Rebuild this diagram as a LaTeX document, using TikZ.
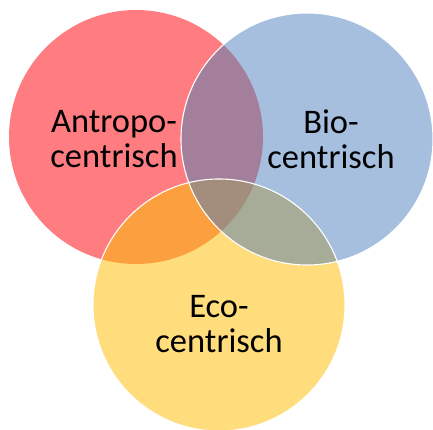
\documentclass[tikz,border=0pt]{standalone}
\usepackage{fontspec}
\setmainfont{Carlito}
\definecolor{cred}{HTML}{FF7C80}
\definecolor{cblue}{HTML}{A6BFDF}
\definecolor{cyellow}{HTML}{FFDC7C}
\definecolor{crb}{HTML}{A37F9B}
\definecolor{cry}{HTML}{FC9F3E}
\definecolor{cby}{HTML}{A6AC97}
\definecolor{crby}{HTML}{A38E7E}
\begin{document}
\begin{tikzpicture}[x=1pt,y=-1pt,
  lbl/.style={font=\fontsize{34.5}{35}\selectfont, align=center, text=black, inner sep=0pt},
  rim/.style={draw=white, line width=1.1pt}]
\useasboundingbox (0,0) rectangle (433,430);
\coordinate (R) at (136,137);
\coordinate (B) at (307,139);
\coordinate (Y) at (219,305);
\def\rr{127}\def\rb{126}\def\ry{126}
% base fills
\fill[cred] (R) circle[radius=\rr];
\fill[cblue] (B) circle[radius=\rb];
\fill[cyellow] (Y) circle[radius=\ry];
% pairwise overlaps
\begin{scope}
  \clip (R) circle[radius=\rr];
  \fill[crb] (B) circle[radius=\rb];
  \fill[cry] (Y) circle[radius=\ry];
\end{scope}
\begin{scope}
  \clip (B) circle[radius=\rb];
  \fill[cby] (Y) circle[radius=\ry];
  \clip (R) circle[radius=\rr];
  \fill[crby] (Y) circle[radius=\ry];
\end{scope}
% white rims
\draw[rim] (B) circle[radius=\rb];
\draw[rim] (Y) circle[radius=\ry];
% labels
\node[lbl] (ta) at (114,139.5) {Antropo-\\centrisch};
\node[lbl] (tb) at (331,139.5) {Bio-\\centrisch};
\node[lbl] (ty) at (219,324.5) {Eco-\\centrisch};
\end{tikzpicture}
\end{document}
